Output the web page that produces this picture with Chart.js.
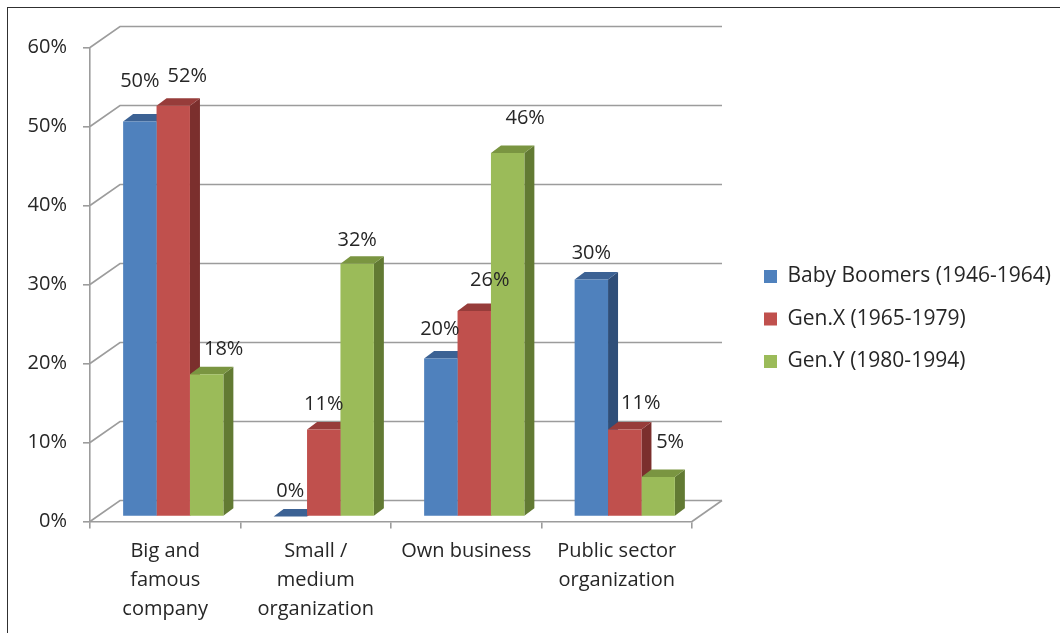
<!DOCTYPE html>
<html>
<head>
<meta charset="utf-8">
<script src="https://cdn.jsdelivr.net/npm/chart.js@4.4.1/dist/chart.umd.min.js"></script>
<style>
  html, body { margin: 0; padding: 0; background: #fff; }
  #wrap { width: 1060px; height: 633px; position: relative; }
</style>
</head>
<body>
<div id="wrap"><canvas id="genChart"></canvas></div>
<script>
const categories = [['Big and', 'famous', 'company'], ['Small /', 'medium', 'organization'], 'Own business', ['Public sector', 'organization']];
const seriesNames = ['Baby Boomers (1946-1964)', 'Gen.X (1965-1979)', 'Gen.Y (1980-1994)'];
const babyBoomers = [50, 0, 20, 30];
const genX = [52, 11, 26, 11];
const genY = [18, 32, 46, 5];
const yTicks = [0, 10, 20, 30, 40, 50, 60];

// front / top / side shades for each series
const palette = [
  { front: '#4F81BD', top: '#3C6294', side: '#2F4E78' },
  { front: '#C0504D', top: '#973C3A', side: '#7B2F2D' },
  { front: '#9BBB59', top: '#7A9541', side: '#627A33' }
];

// value label placement: [dx from bar centre, dy from bar top]
const labelPlacement = [
  [[0, -39.5], [0, -24.5], [-1, -28.5], [0, -25.5]],
  [[14, -28.7], [0, -24.6], [15.5, -30], [16, -25.6]],
  [[17, -24], [0, -22.7], [17.5, -34.3], [12, -34]]
];

const FONT = "'Open Sans', sans-serif";
const TEXT = '#262626';
const LINE = '#9c9c9c';
const LINE_W = 1.6;
const WALL = { dx: 30, dy: -21 };        // back wall offset from the front plane
const BAR_SHIFT = { dx: 8, dy: -5 };     // bars stand a bit behind the front axis
const BAR_DEPTH = { dx: 10, dy: -7.5 };  // thickness of each bar

function poly(ctx, pts) {
  ctx.beginPath();
  ctx.moveTo(pts[0][0], pts[0][1]);
  for (let i = 1; i < pts.length; i++) ctx.lineTo(pts[i][0], pts[i][1]);
  ctx.closePath();
  ctx.fill();
}

const depthPlugin = {
  id: 'depth3d',
  afterLayout(chart) {
    // park the legend to the right of the back wall
    const lg = chart.legend;
    lg.left = 742.5; lg.right = 1060; lg.width = lg.right - lg.left;
    lg.top = 244.5; lg.bottom = 460; lg.height = lg.bottom - lg.top;
  },
  beforeDraw(chart) {
    const ctx = chart.ctx;
    ctx.save();
    ctx.strokeStyle = '#303030';
    ctx.lineWidth = 1;
    ctx.strokeRect(7.5, 7.5, 1200, 800);
    ctx.restore();
  },
  beforeDatasetsDraw(chart) {
    const { ctx, chartArea: a, scales: { y } } = chart;
    ctx.save();
    ctx.strokeStyle = LINE;
    ctx.lineWidth = LINE_W;
    yTicks.forEach(v => {
      const py = y.getPixelForValue(v);
      ctx.beginPath();
      ctx.moveTo(a.left, py);
      ctx.lineTo(a.left + WALL.dx, py + WALL.dy);
      ctx.lineTo(a.right + WALL.dx, py + WALL.dy);
      ctx.stroke();
    });
    const p0 = y.getPixelForValue(0);
    ctx.beginPath();
    ctx.moveTo(a.right, p0);
    ctx.lineTo(a.right + WALL.dx, p0 + WALL.dy);
    ctx.stroke();

    // side and top faces, drawn before the fronts so neighbours cover them
    ctx.translate(BAR_SHIFT.dx, BAR_SHIFT.dy);
    chart.data.datasets.forEach((ds, i) => {
      chart.getDatasetMeta(i).data.forEach(bar => {
        const { x, y: top, base, width } = bar.getProps(['x', 'y', 'base', 'width'], true);
        const l = x - width / 2, r = x + width / 2;
        const dx = BAR_DEPTH.dx, dy = BAR_DEPTH.dy;
        ctx.fillStyle = palette[i].side;
        poly(ctx, [[r, top], [r + dx, top + dy], [r + dx, base + dy], [r, base]]);
        ctx.fillStyle = palette[i].top;
        poly(ctx, [[l, top], [l + dx, top + dy], [r + dx, top + dy], [r, top]]);
      });
    });
    ctx.restore();
  },
  beforeDatasetDraw(chart) {
    chart.ctx.save();
    chart.ctx.translate(BAR_SHIFT.dx, BAR_SHIFT.dy);
  },
  afterDatasetDraw(chart) {
    chart.ctx.restore();
  },
  afterDatasetsDraw(chart) {
    const ctx = chart.ctx;
    ctx.save();
    ctx.font = '20px ' + FONT;
    ctx.fillStyle = TEXT;
    ctx.textAlign = 'center';
    ctx.textBaseline = 'middle';
    chart.data.datasets.forEach((ds, i) => {
      chart.getDatasetMeta(i).data.forEach((bar, j) => {
        const [ox, oy] = labelPlacement[i][j];
        ctx.fillText(ds.data[j] + '%', bar.x + BAR_SHIFT.dx + ox, bar.y + BAR_SHIFT.dy + oy - 1);
      });
    });
    ctx.restore();
  }
};

const seriesData = [babyBoomers, genX, genY];

new Chart(document.getElementById('genChart'), {
  type: 'bar',
  data: {
    labels: categories,
    datasets: seriesData.map((values, i) => ({
      label: seriesNames[i],
      data: values,
      backgroundColor: palette[i].front,
      borderWidth: 0,
      categoryPercentage: 0.666,
      barPercentage: 1
    }))
  },
  options: {
    responsive: true,
    maintainAspectRatio: false,
    animation: false,
    events: [],
    layout: { padding: { top: 47.5, left: 0, right: 168, bottom: 0 } },
    scales: {
      x: {
        grid: { drawOnChartArea: false, offset: true, tickLength: 7, color: LINE, lineWidth: LINE_W },
        border: { color: LINE, width: LINE_W },
        ticks: {
          color: TEXT,
          maxRotation: 0,
          autoSkip: false,
          padding: 8,
          font: { family: FONT, size: 20, lineHeight: 1.45 }
        },
        afterFit(scale) { scale.height = 111.5; }
      },
      y: {
        min: 0,
        max: 60,
        grid: { drawOnChartArea: false, tickLength: 7, color: LINE, lineWidth: LINE_W },
        border: { color: LINE, width: LINE_W },
        ticks: {
          stepSize: 10,
          padding: 16,
          color: TEXT,
          font: { family: FONT, size: 20 },
          callback: v => v + '%'
        },
        afterFit(scale) { scale.width = 90; }
      }
    },
    plugins: {
      tooltip: { enabled: false },
      legend: {
        position: 'right',
        align: 'start',
        maxWidth: 200,
        labels: {
          color: TEXT,
          boxWidth: 13,
          boxHeight: 13,
          padding: 21.5,
          font: { family: FONT, size: 21 }
        }
      }
    }
  },
  plugins: [depthPlugin]
});
</script>
</body>
</html>
